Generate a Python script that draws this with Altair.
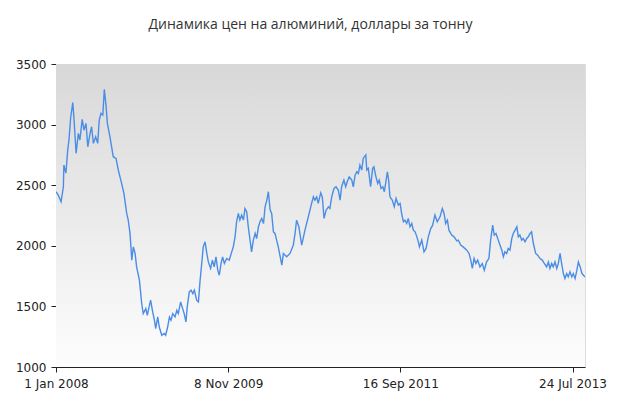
import altair as alt
import pandas as pd

TITLE = "Динамика цен на алюминий, доллары за тонну"
START = "2008-01-01"

day_offsets = [
    0, 9, 20, 29, 31, 39, 46, 51, 58, 66, 71, 79, 88, 94, 103, 110, 118, 125, 134, 140,
    147, 156, 164, 170, 177, 184, 190, 197, 202, 212, 225, 236, 245, 258, 267, 278, 284, 291, 298, 304,
    311, 317, 328, 337, 343, 353, 359, 366, 372, 379, 387, 392, 400, 406, 416, 425, 431, 439, 446, 452,
    459, 468, 475, 481, 490, 498, 504, 511, 516, 524, 531, 538, 544, 553, 560, 566, 573, 579, 586, 593,
    599, 608, 615, 622, 629, 636, 642, 649, 655, 662, 671, 681, 691, 697, 704, 710, 717, 723, 730, 737,
    743, 750, 756, 763, 769, 776, 783, 789, 796, 802, 809, 816, 822, 829, 835, 842, 848, 855, 861, 874,
    888, 894, 907, 920, 933, 940, 946, 955, 966, 979, 992, 1005, 1012, 1018, 1025, 1031, 1041, 1047, 1054, 1062,
    1071, 1077, 1084, 1093, 1101, 1110, 1117, 1123, 1132, 1139, 1145, 1153, 1163, 1169, 1176, 1183, 1189, 1195, 1202, 1208,
    1218, 1222, 1228, 1237, 1245, 1250, 1258, 1265, 1271, 1278, 1285, 1291, 1298, 1303, 1308, 1313, 1322, 1330, 1337, 1346,
    1353, 1359, 1366, 1372, 1379, 1385, 1392, 1399, 1405, 1412, 1418, 1425, 1429, 1438, 1447, 1455, 1464, 1473, 1481, 1490,
    1499, 1510, 1519, 1526, 1532, 1539, 1545, 1556, 1565, 1576, 1582, 1592, 1601, 1615, 1624, 1631, 1637, 1644, 1651, 1658,
    1667, 1676, 1684, 1693, 1702, 1709, 1717, 1723, 1730, 1739, 1746, 1753, 1759, 1765, 1772, 1778, 1785, 1792, 1798, 1805,
    1812, 1818, 1824, 1831, 1837, 1844, 1851, 1857, 1864, 1870, 1877, 1886, 1894, 1903, 1912, 1920, 1929, 1936, 1942, 1949,
    1955, 1962, 1969, 1975, 1982, 1988, 1995, 2001, 2008, 2014, 2021, 2028, 2034, 2041, 2048, 2054, 2061, 2068, 2074, 2080,
]

prices = [
    2446, 2418, 2363, 2487, 2666, 2600, 2790, 2873, 3065, 3181, 3038, 2763, 2928, 2873, 3043, 2955, 3010, 2817, 2928, 2982,
    2845, 2900, 2845, 3038, 3093, 3079, 3291, 3148, 3010, 2900, 2735, 2721, 2625, 2515, 2432, 2267, 2212, 2102, 1882, 1991,
    1937, 1826, 1716, 1524, 1441, 1482, 1427, 1496, 1551, 1468, 1386, 1317, 1413, 1330, 1262, 1276, 1262, 1330, 1413, 1386,
    1441, 1413, 1468, 1441, 1537, 1482, 1441, 1372, 1496, 1620, 1634, 1606, 1634, 1551, 1537, 1702, 1854, 1991, 2033, 1937,
    1867, 1813, 1882, 1826, 1909, 1799, 1757, 1854, 1909, 1854, 1895, 1882, 1950, 1990, 2074, 2198, 2267, 2212, 2253, 2212,
    2308, 2280, 2157, 2047, 1950, 2047, 2102, 2060, 2157, 2198, 2226, 2184, 2322, 2377, 2446, 2294, 2267, 2115, 2102, 1991,
    1840, 1937, 1909, 1937, 2005, 2102, 2212, 2157, 2005, 2129, 2239, 2350, 2404, 2377, 2404, 2350, 2437, 2404, 2226, 2294,
    2322, 2308, 2404, 2473, 2487, 2460, 2377, 2487, 2542, 2487, 2528, 2569, 2542, 2487, 2583, 2611, 2597, 2666, 2625, 2721,
    2749, 2625, 2639, 2487, 2639, 2652, 2569, 2515, 2542, 2473, 2487, 2446, 2542, 2611, 2542, 2404, 2377, 2322, 2391, 2336,
    2350, 2267, 2198, 2212, 2184, 2226, 2157, 2184, 2129, 2115, 2080, 2030, 1991, 2047, 1950, 1978, 2074, 2140, 2170, 2253,
    2198, 2239, 2308, 2267, 2184, 2212, 2129, 2088, 2074, 2040, 2047, 2005, 1991, 1964, 1937, 1882, 1813, 1895, 1854, 1882,
    1826, 1854, 1799, 1867, 1895, 2047, 2170, 2088, 2102, 2047, 2005, 1964, 1909, 1950, 1937, 1978, 1964, 2060, 2102, 2129,
    2157, 2074, 2088, 2047, 2060, 2033, 2060, 2074, 2102, 2115, 2019, 1937, 1923, 1895, 1882, 1854, 1826, 1867, 1813, 1854,
    1826, 1867, 1813, 1854, 1937, 1854, 1771, 1730, 1771, 1743, 1785, 1743, 1771, 1730, 1799, 1867, 1826, 1771, 1757, 1743,
]

x_tick_dates = [(2008, 1, 1), (2009, 11, 8), (2011, 9, 16), (2013, 7, 24)]
x_domain = [(2008, 1, 1), (2013, 9, 11)]
y_domain = [1000, 3500]
y_ticks = [1000, 1500, 2000, 2500, 3000, 3500]


def dt(t):
    return alt.DateTime(year=t[0], month=t[1], date=t[2], utc=True)


dates = pd.to_datetime(START) + pd.to_timedelta(day_offsets, unit="D")
df = pd.DataFrame({"date": dates.strftime("%Y-%m-%d"), "price": prices})

x_scale = alt.Scale(type="utc", domain=[dt(t) for t in x_domain])
y_scale = alt.Scale(domain=y_domain, nice=False, zero=False)

axis_common = dict(
    grid=False,
    domainColor="#222222",
    tickColor="#222222",
    tickSize=5,
    labelColor="#222222",
    labelFont="DejaVu Sans",
    labelFontSize=12,
    labelFlush=False,
    labelOverlap=False,
    title=None,
)

bg = alt.Chart(pd.DataFrame({"k": [0]})).mark_rect(
    color=alt.Gradient(
        gradient="linear",
        stops=[
            alt.GradientStop(color="#d8d8d8", offset=0),
            alt.GradientStop(color="#fdfdfd", offset=1),
        ],
        x1=0, x2=0, y1=0, y2=1,
    )
).encode(
    x=alt.value(0), x2=alt.value("width"), y=alt.value(0), y2=alt.value("height")
)

line = alt.Chart(df).mark_line(color="#4a8de6", strokeWidth=1.4, clip=True).encode(
    x=alt.X(
        "date:T",
        scale=x_scale,
        axis=alt.Axis(
            values=[dt(t) for t in x_tick_dates],
            format="%-d %b %Y",
            labelPadding=6,
            **axis_common,
        ),
    ),
    y=alt.Y(
        "price:Q",
        scale=y_scale,
        axis=alt.Axis(values=y_ticks, format="d", labelPadding=5, **axis_common),
    ),
)

chart = (
    alt.layer(bg, line)
    .properties(
        width=529,
        height=303,
        title=alt.TitleParams(
            TITLE,
            font="Open Sans",
            fontSize=14,
            fontWeight="normal",
            color="#333333",
            anchor="middle",
            dx=-10,
            offset=26,
        ),
        autosize=alt.AutoSizeParams(type="none"),
        padding={"left": 48, "top": 56, "right": 27, "bottom": 45},
    )
    .configure_view(stroke=None)
    .configure(background="#ffffff")
)

chart.save("out.html", embed_options={"renderer": "svg", "actions": False})
